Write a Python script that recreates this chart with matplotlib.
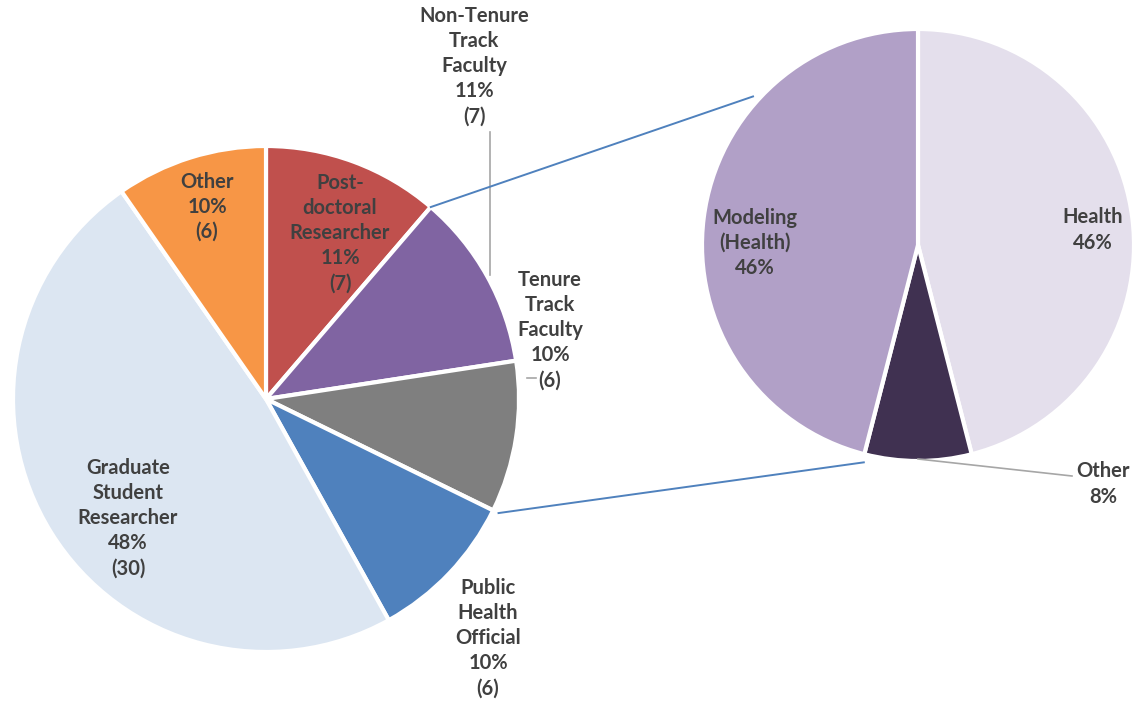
import numpy as np
import matplotlib
matplotlib.use("Agg")
import matplotlib.pyplot as plt

# main pie (clockwise from 12 o'clock)
main_labels = ["Post-\ndoctoral\nResearcher", "Non-Tenure\nTrack\nFaculty", "Tenure\nTrack\nFaculty",
               "Public\nHealth\nOfficial", "Graduate\nStudent\nResearcher", "Other"]
main_counts = [7, 7, 6, 6, 30, 6]
main_colors = ["#C0504D", "#8064A2", "#7F7F7F", "#4F81BD", "#DCE6F2", "#F79646"]

# breakout pie
sub_labels = ["Health", "Other", "Modeling\n(Health)"]
sub_pcts = [46, 8, 46]
sub_colors = ["#E4DFEC", "#403151", "#B1A0C7"]

plt.rcParams["font.family"] = ["Lato", "DejaVu Sans"]
TXT = "#404040"

W, H = 1135, 706
fig = plt.figure(figsize=(W / 100, H / 100), dpi=100)
ax = fig.add_axes([0, 0, 1, 1])

c1, r1 = (266, H - 399), 253
c2, r2 = (918, H - 245), 216

explode = [0, 0, 0.035, 0, 0, 0]
w1, _ = ax.pie(main_counts, colors=main_colors, startangle=90, counterclock=False,
               center=c1, radius=r1, explode=explode, frame=True,
               wedgeprops=dict(edgecolor="white", linewidth=3))
w2, _ = ax.pie(sub_pcts, colors=sub_colors, startangle=90, counterclock=False,
               center=c2, radius=r2, frame=True,
               wedgeprops=dict(edgecolor="white", linewidth=3))
ax.set_xlim(0, W)
ax.set_ylim(0, H)
ax.set_aspect("equal")
ax.axis("off")

total = sum(main_counts)
main_text = [f"{l}\n{round(100 * v / total)}%\n({v})" for l, v in zip(main_labels, main_counts)]
sub_text = [f"{l}\n{p}%" for l, p in zip(sub_labels, sub_pcts)]

# label positions (pixels, y from top)
main_pos = [(340, 233), (474, 66), (550, 330), (488, 638), (128, 518), (207, 207)]
sub_pos = [(1093, 230), (1103, 484), (755, 243)]

fs = 14.5
for t, (x, y) in zip(main_text, main_pos):
    ax.text(x, H - y, t, ha="center", va="center", fontsize=fs, fontweight="bold",
            color=TXT, linespacing=1.32)
for t, (x, y) in zip(sub_text, sub_pos):
    ax.text(x, H - y, t, ha="center", va="center", fontsize=fs, fontweight="bold",
            color=TXT, linespacing=1.32)

# leader lines
lc = "#A6A6A6"
ax.plot([490, 490], [H - 132, H - 275], color=lc, lw=1.2)
ax.plot([527, 536], [H - 378, H - 378], color=lc, lw=1.2)
ax.plot([918, 1072], [H - 459, H - 476], color=lc, lw=1.2)

# connector lines from main pie to breakout pie
def edge_pt(center, r, ang_deg):
    a = np.deg2rad(ang_deg)
    return center[0] + r * np.cos(a), center[1] + r * np.sin(a)

cum = np.cumsum(main_counts) / total * 360
top_a = 90 - cum[0]
bot_a = 90 - cum[2]
p1 = edge_pt(c1, r1, top_a)
p2 = edge_pt(c1, r1 + 6, bot_a)
q1 = edge_pt(c2, r2 + 6, 138)
q2 = edge_pt(c2, r2 + 8, 256)
ax.plot([p1[0], q1[0]], [p1[1], q1[1]], color="#4F81BD", lw=1.4)
ax.plot([p2[0], q2[0]], [p2[1], q2[1]], color="#4F81BD", lw=1.4)

fig.savefig("out.png", dpi=100)
